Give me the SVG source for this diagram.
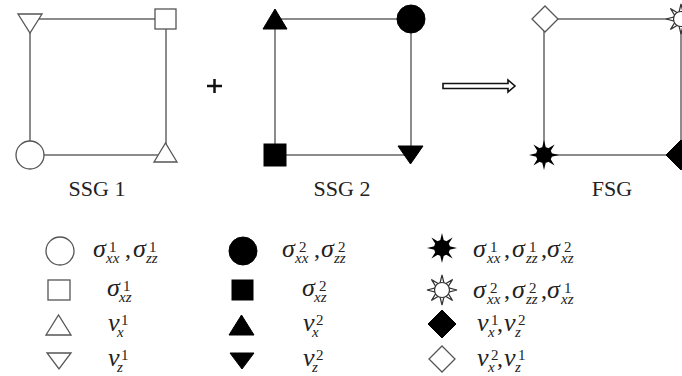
<svg xmlns="http://www.w3.org/2000/svg" xmlns:xlink="http://www.w3.org/1999/xlink" width="682" height="376" viewBox="0 0 682 376">
<style>
.edge{stroke:#666;stroke-width:1.5;fill:none}
.open{fill:#fff;stroke:#555;stroke-width:1.3}
.fill{fill:#000;stroke:#000;stroke-width:1}
.lbl{font-family:"Liberation Serif","Times New Roman",serif;font-size:22px;fill:#222;text-anchor:middle}
.m{font-family:"Liberation Serif","Times New Roman",serif;font-size:26px;font-style:italic;fill:#222}
.sp{font-size:15px;font-style:normal}
.sb{font-size:15px;font-style:italic}
.c{font-size:24px;font-style:normal}
</style>
<defs>
<polygon id="starP" points="0,-15 2.3,-5.5 10.6,-10.6 5.5,-2.3 15,0 5.5,2.3 10.6,10.6 2.3,5.5 0,15 -2.3,5.5 -10.6,10.6 -5.5,2.3 -15,0 -5.5,-2.3 -10.6,-10.6 -2.3,-5.5"/>
<g id="starF"><use href="#starP" fill="#000"/><circle r="8" fill="#000"/></g>
<g id="starO"><use href="#starP" fill="#fff" stroke="#333" stroke-width="1.2"/><circle r="7.5" fill="#fff" stroke="#333" stroke-width="1.2"/></g>
</defs>

<g id="connectors">
<rect class="edge" x="30" y="19" width="136" height="136"/>
<rect class="edge" x="275" y="19" width="136" height="136"/>
<rect class="edge" x="544" y="19" width="137" height="136"/>
</g>

<g id="ssg1-tl"><polygon class="open" points="18,14 42,14 30,33"/></g>
<g id="ssg1-tr"><rect class="open" x="155" y="9" width="21" height="20"/></g>
<g id="ssg1-bl"><circle class="open" cx="30" cy="155" r="14"/></g>
<g id="ssg1-br"><polygon class="open" points="154,162 177,162 165.5,143"/></g>
<g id="ssg1-label"><text class="lbl" x="97" y="196">SSG 1</text></g>

<g id="plus"><path d="M207,86 H222 M214.5,79 V93" stroke="#111" stroke-width="2.5" fill="none"/></g>

<g id="ssg2-tl"><polygon class="fill" points="263,29 287,29 275,9"/></g>
<g id="ssg2-tr"><circle class="fill" cx="411" cy="19" r="14"/></g>
<g id="ssg2-bl"><rect class="fill" x="264" y="144" width="22" height="22"/></g>
<g id="ssg2-br"><polygon class="fill" points="398,146 423,146 410.5,164"/></g>
<g id="ssg2-label"><text class="lbl" x="342" y="196">SSG 2</text></g>

<g id="arrow"><polygon points="443,83.5 508,83.5 508,80 515,86 508,92 508,88.5 443,88.5" fill="#fff" stroke="#111" stroke-width="1.6" stroke-linejoin="miter"/></g>

<g id="fsg-tl"><polygon class="open" points="545,6 558,19 545,32 532,19"/></g>
<g id="fsg-tr"><use href="#starO" x="681" y="19"/></g>
<g id="fsg-bl"><use href="#starF" x="544" y="155"/></g>
<g id="fsg-br"><polygon class="fill" points="681,140 696,155 681,170 666,155"/></g>
<g id="fsg-label"><text class="lbl" x="612" y="196">FSG</text></g>

<g id="legend-1">
<circle class="open" cx="60" cy="251" r="14"/>
<text class="m"><tspan x="93" y="257">σ</tspan><tspan class="sp" x="109" y="252">1</tspan><tspan class="sb" x="106" y="263">xx</tspan><tspan class="c" x="125" y="257">,</tspan><tspan x="133" y="257">σ</tspan><tspan class="sp" x="149" y="252">1</tspan><tspan class="sb" x="146" y="263">zz</tspan></text>
</g>
<g id="legend-2">
<rect class="open" x="48" y="280" width="22" height="20"/>
<text class="m"><tspan x="107" y="296">σ</tspan><tspan class="sp" x="123" y="291">1</tspan><tspan class="sb" x="119" y="302">xz</tspan></text>
</g>
<g id="legend-3">
<polygon class="open" points="46,335 71,335 58.5,315"/>
<text class="m"><tspan x="108" y="331">v</tspan><tspan class="sp" x="121" y="325">1</tspan><tspan class="sb" x="117" y="337">x</tspan></text>
</g>
<g id="legend-4">
<polygon class="open" points="47,353 71,353 59,369"/>
<text class="m"><tspan x="108" y="366">v</tspan><tspan class="sp" x="121" y="360">1</tspan><tspan class="sb" x="117" y="372">z</tspan></text>
</g>

<g id="legend-5">
<circle class="fill" cx="243" cy="251" r="14"/>
<text class="m"><tspan x="282" y="257">σ</tspan><tspan class="sp" x="299" y="252">2</tspan><tspan class="sb" x="295" y="263">xx</tspan><tspan class="c" x="314" y="257">,</tspan><tspan x="321" y="257">σ</tspan><tspan class="sp" x="338" y="252">2</tspan><tspan class="sb" x="334" y="263">zz</tspan></text>
</g>
<g id="legend-6">
<rect class="fill" x="232" y="280" width="21" height="20"/>
<text class="m"><tspan x="302" y="296">σ</tspan><tspan class="sp" x="319" y="291">2</tspan><tspan class="sb" x="314" y="302">xz</tspan></text>
</g>
<g id="legend-7">
<polygon class="fill" points="229,335 254,335 241.5,315"/>
<text class="m"><tspan x="303" y="331">v</tspan><tspan class="sp" x="316" y="325">2</tspan><tspan class="sb" x="312" y="337">x</tspan></text>
</g>
<g id="legend-8">
<polygon class="fill" points="230,353 254,353 242,369"/>
<text class="m"><tspan x="303" y="366">v</tspan><tspan class="sp" x="316" y="360">2</tspan><tspan class="sb" x="312" y="372">z</tspan></text>
</g>

<g id="legend-9">
<use href="#starF" x="442" y="248"/>
<text class="m"><tspan x="473" y="257">σ</tspan><tspan class="sp" x="490" y="252">1</tspan><tspan class="sb" x="487" y="263">xx</tspan><tspan class="c" x="504" y="257">,</tspan><tspan x="512" y="257">σ</tspan><tspan class="sp" x="529" y="252">1</tspan><tspan class="sb" x="526" y="263">zz</tspan><tspan class="c" x="541" y="257">,</tspan><tspan x="547" y="257">σ</tspan><tspan class="sp" x="564" y="252">2</tspan><tspan class="sb" x="561" y="263">xz</tspan></text>
</g>
<g id="legend-10">
<use href="#starO" x="442" y="290"/>
<text class="m"><tspan x="473" y="298">σ</tspan><tspan class="sp" x="490" y="293">2</tspan><tspan class="sb" x="487" y="304">xx</tspan><tspan class="c" x="504" y="298">,</tspan><tspan x="512" y="298">σ</tspan><tspan class="sp" x="529" y="293">2</tspan><tspan class="sb" x="526" y="304">zz</tspan><tspan class="c" x="541" y="298">,</tspan><tspan x="547" y="298">σ</tspan><tspan class="sp" x="564" y="293">1</tspan><tspan class="sb" x="561" y="304">xz</tspan></text>
</g>
<g id="legend-11">
<polygon class="fill" points="442,310 456,324 442,338 428,324"/>
<text class="m"><tspan x="477" y="331">v</tspan><tspan class="sp" x="491" y="325">1</tspan><tspan class="sb" x="488" y="337">x</tspan><tspan class="c" x="497" y="331">,</tspan><tspan x="504" y="331">v</tspan><tspan class="sp" x="518" y="325">2</tspan><tspan class="sb" x="515" y="337">z</tspan></text>
</g>
<g id="legend-12">
<polygon class="open" points="442,346 455,359 442,372 429,359"/>
<text class="m"><tspan x="477" y="366">v</tspan><tspan class="sp" x="491" y="360">2</tspan><tspan class="sb" x="488" y="372">x</tspan><tspan class="c" x="497" y="366">,</tspan><tspan x="504" y="366">v</tspan><tspan class="sp" x="518" y="360">1</tspan><tspan class="sb" x="515" y="372">z</tspan></text>
</g>
</svg>
